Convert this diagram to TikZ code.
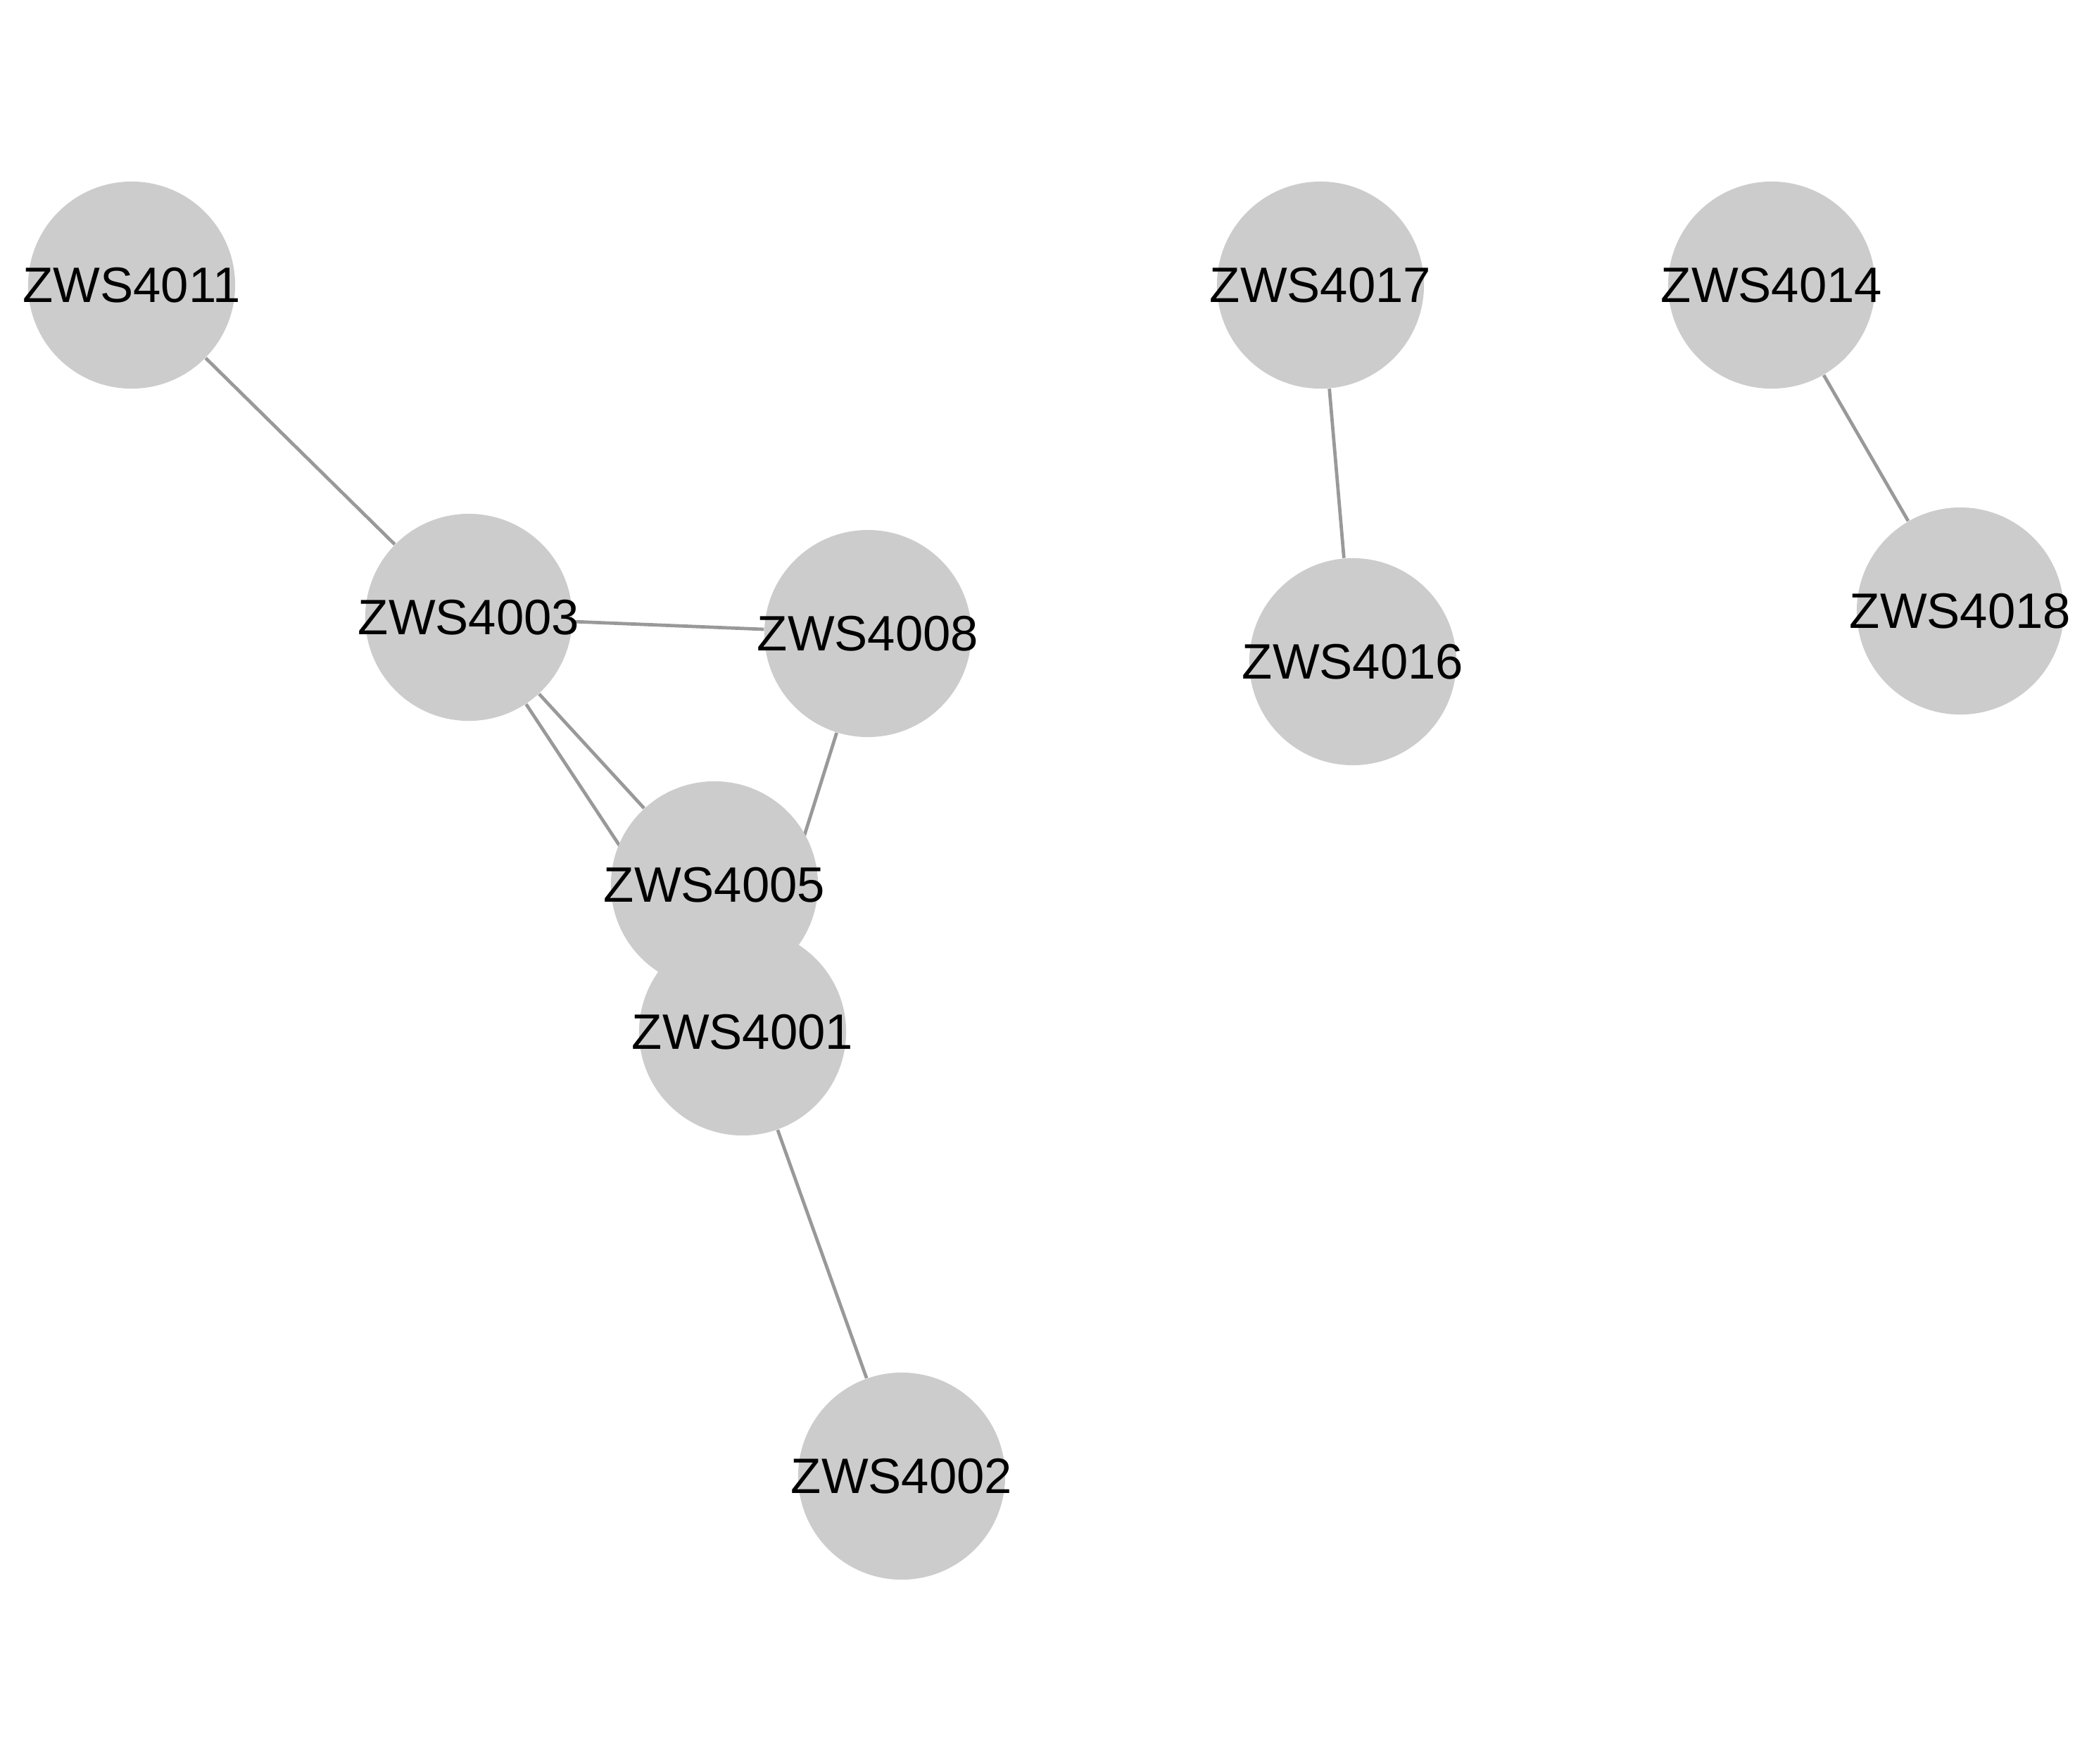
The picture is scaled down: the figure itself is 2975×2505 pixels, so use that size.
\documentclass[tikz,border=0pt]{standalone}
\usepackage{fontspec}
\setmainfont{Liberation Sans}
\usepackage{tikz}
\usetikzlibrary{backgrounds}
\definecolor{nodegray}{HTML}{CCCCCC}
\definecolor{edgegray}{HTML}{999999}

\begin{document}
\begin{tikzpicture}[
    x=0.01cm, y=-0.01cm,
    host/.style={circle, fill=nodegray, draw=none, minimum size=2.94cm, inner sep=0pt,
      label={[font=\fontsize{20.1}{24}\selectfont, inner sep=0pt]center:#1}},
    link/.style={draw=edgegray, line width=1.35pt}
  ]
    \useasboundingbox (0,0) rectangle (2975,2505);
    \node[host=ZWS4011] (n11) at (187,405)   {};
    \node[host=ZWS4003] (n3)  at (666,877)   {};
    \node[host=ZWS4008] (n8)  at (1233,900)  {};
    \node[host=ZWS4005] (n5)  at (1015,1257) {};
    \node[host=ZWS4001] (n1)  at (1055,1466) {};
    \node[host=ZWS4002] (n2)  at (1281,2097) {};
    \node[host=ZWS4017] (n17) at (1876,405)  {};
    \node[host=ZWS4016] (n16) at (1922,940)  {};
    \node[host=ZWS4014] (n14) at (2517,405)  {};
    \node[host=ZWS4018] (n18) at (2785,868)  {};
    % edges go under the circles
    \begin{scope}[on background layer]
      \draw[link] (n11) -- (n3);
      \draw[link] (n3) -- (n8);
      \draw[link] (n3) -- (n5);
      \draw[link] (n3) -- (n1);
      \draw[link] (n8) -- (n1);
      \draw[link] (n1) -- (n2);
      \draw[link] (n17) -- (n16);
      \draw[link] (n14) -- (n18);
    \end{scope}
  \end{tikzpicture}
\end{document}
